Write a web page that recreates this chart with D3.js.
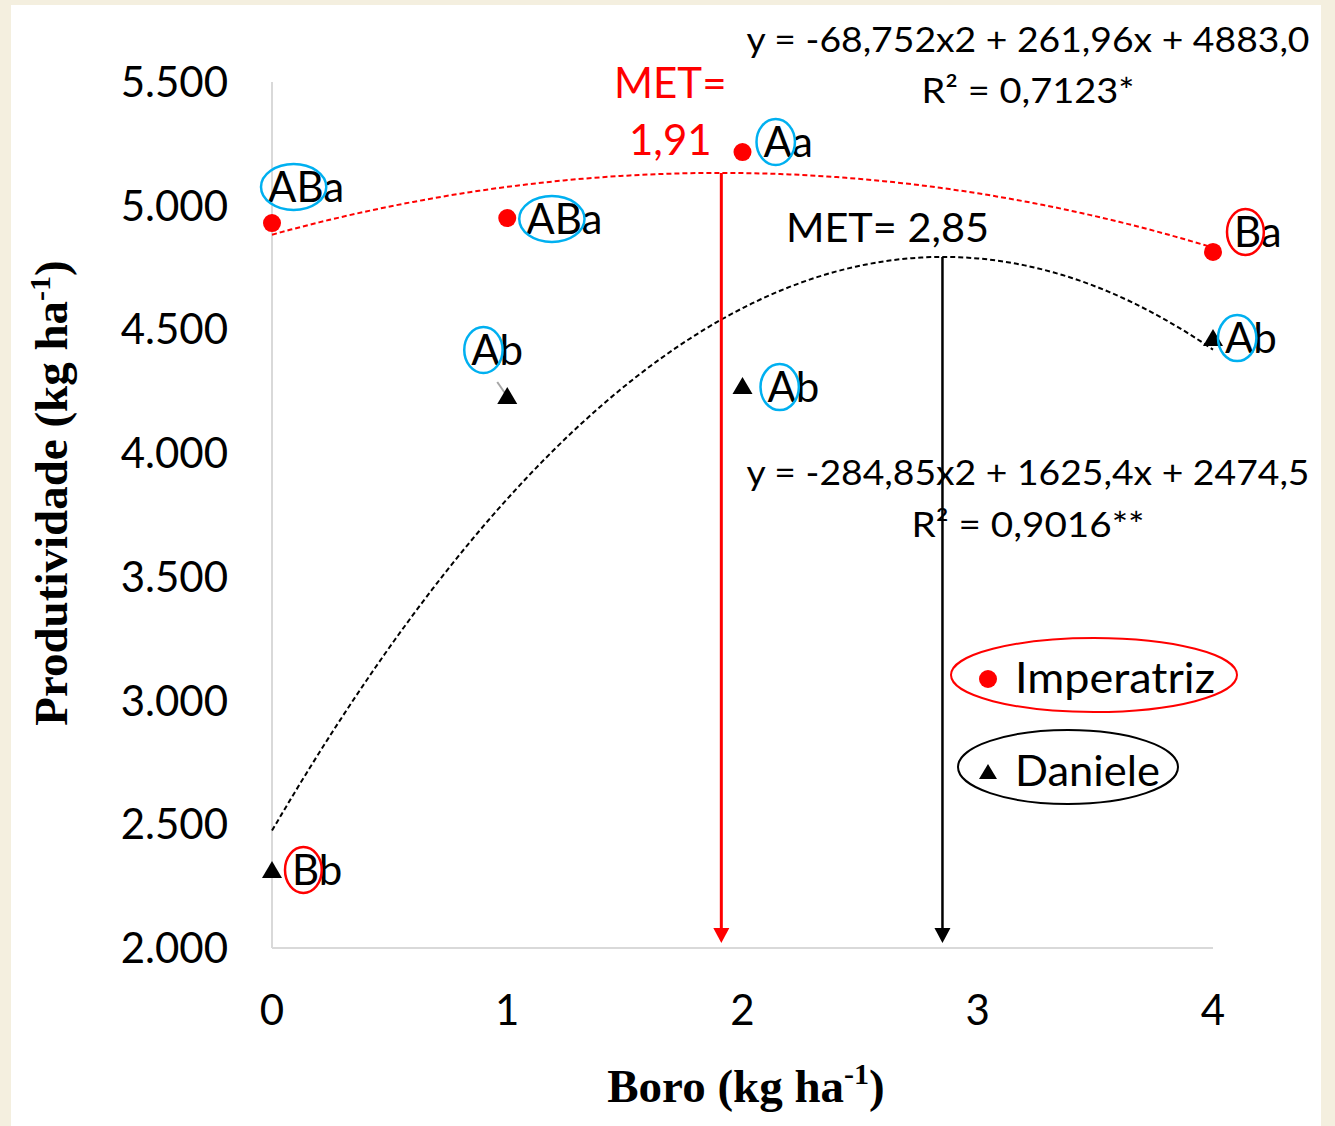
<!DOCTYPE html>
<html>
<head>
<meta charset="utf-8">
<script src="https://cdn.jsdelivr.net/npm/d3@7"></script>
<style>
  body { margin: 0; background: #f4efdf; }
  svg { display: block; }
</style>
</head>
<body>
<svg id="chart"></svg>
<script>
// values
var doses = [0, 1, 2, 4];
var imperatriz = [4930, 4950, 5217, 4813];
var daniele = [2315, 4231, 4271, 4465];
var imperatrizLetters = ["ABa", "ABa", "Aa", "Ba"];
var danieleLetters = ["Bb", "Ab", "Ab", "Ab"];
var imperatrizCircled = ["AB", "AB", "A", "B"];
var danieleCircled = ["B", "A", "A", "A"];
// regression coefficients (c0, c1, c2) as printed on the chart
var imperatrizCoef = [4883.0, 261.96, -68.752];
var danieleCoef = [2474.5, 1625.4, -284.85];
var metValues = [1.91, 2.85];
var metLabels = [["MET=", "1,91"], ["MET= 2,85"]];
var equations = ["y = -68,752x2 + 261,96x + 4883,0", "y = -284,85x2 + 1625,4x + 2474,5"];
var r2Labels = ["R² = 0,7123*", "R² = 0,9016**"];
var seriesNames = ["Imperatriz", "Daniele"];
var xTicks = [0, 1, 2, 3, 4];
var yTicks = [2000, 2500, 3000, 3500, 4000, 4500, 5000, 5500];

// label offsets from their point (layout only)
var impLabelOff = [[-4, -21], [19, 16], [21, 5], [21, -5]];
var danLabelOff = [[20, 15], [-36, -31], [25, 16], [12, 15]];

var W = 1335, H = 1126;
var RED = "#ff0000", BLUE = "#00b0f0";
var sans = "Lato, 'Open Sans', sans-serif";
var serif = "'Liberation Serif', 'Times New Roman', serif";

var svg = d3.select("#chart").attr("width", W).attr("height", H);

// background: beige page with white card
svg.append("rect").attr("width", W).attr("height", H).attr("fill", "#f4efdf");
svg.append("rect").attr("x", 11).attr("y", 5).attr("width", 1310).attr("height", H - 5).attr("fill", "#ffffff");

var x = d3.scaleLinear().domain([0, 4]).range([272, 1213]);
var y = d3.scaleLinear().domain([2000, 5500]).range([948, 82]);

var fmt = d3.formatLocale({ decimal: ",", thousands: ".", grouping: [3], currency: ["", ""] }).format(",");

// axes lines
svg.append("line").attr("x1", x(0)).attr("x2", x(0)).attr("y1", y(5500)).attr("y2", y(2000))
  .attr("stroke", "#d9d9d9").attr("stroke-width", 2);
svg.append("line").attr("x1", x(0)).attr("x2", x(4)).attr("y1", y(2000)).attr("y2", y(2000))
  .attr("stroke", "#d9d9d9").attr("stroke-width", 2);

// tick labels
svg.selectAll(".ytick").data(yTicks).enter().append("text")
  .attr("x", 228).attr("y", function(d) { return y(d) + 15 })
  .attr("text-anchor", "end").attr("font-family", sans).attr("font-size", 42)
  .text(function(d) { return fmt(d) });

svg.selectAll(".xtick").data(xTicks).enter().append("text")
  .attr("x", function(d) { return x(d) }).attr("y", 1025)
  .attr("text-anchor", "middle").attr("font-family", sans).attr("font-size", 42)
  .text(function(d) { return d });

// axis titles
var yt = svg.append("text").attr("transform", "translate(67,493) rotate(-90)")
  .attr("text-anchor", "middle").attr("font-family", serif).attr("font-weight", "bold").attr("font-size", 47);
yt.append("tspan").text("Produtividade (kg ha");
yt.append("tspan").attr("font-size", 30).attr("dy", -17).text("-1");
yt.append("tspan").attr("dy", 17).text(")");

var xt = svg.append("text").attr("x", 746).attr("y", 1102)
  .attr("text-anchor", "middle").attr("font-family", serif).attr("font-weight", "bold").attr("font-size", 47);
xt.append("tspan").text("Boro (kg ha");
xt.append("tspan").attr("font-size", 30).attr("dy", -18).text("-1");
xt.append("tspan").attr("dy", 18).text(")");

// trend curves
function poly(c, v) { return c[0] + c[1] * v + c[2] * v * v }
var xs = d3.range(0, 4.0001, 0.04);
var line = d3.line().x(function(d) { return x(d) });

svg.append("path")
  .attr("d", line.y(function(d) { return y(poly(imperatrizCoef, d)) })(xs))
  .attr("fill", "none").attr("stroke", RED).attr("stroke-width", 2).attr("stroke-dasharray", "5,3");
svg.append("path")
  .attr("d", line.y(function(d) { return y(poly(danieleCoef, d)) })(xs))
  .attr("fill", "none").attr("stroke", "#000").attr("stroke-width", 2).attr("stroke-dasharray", "5,3");

// MET arrows
var metColors = [RED, "#000"];
var metCoefs = [imperatrizCoef, danieleCoef];
metValues.forEach(function(m, i) {
  var px = x(m), top = y(poly(metCoefs[i], m)), tip = 943;
  svg.append("line").attr("x1", px).attr("x2", px).attr("y1", top).attr("y2", tip - 12)
    .attr("stroke", metColors[i]).attr("stroke-width", i == 0 ? 3 : 2.5);
  svg.append("path")
    .attr("d", "M" + (px - 8) + "," + (tip - 15) + "L" + (px + 8) + "," + (tip - 15) + "L" + px + "," + tip + "Z")
    .attr("fill", metColors[i]);
});

// MET labels
svg.append("text").attr("x", x(metValues[0]) - 51).attr("y", 98).attr("text-anchor", "middle")
  .attr("font-family", sans).attr("font-size", 42).attr("fill", RED).text(metLabels[0][0]);
svg.append("text").attr("x", x(metValues[0]) - 51).attr("y", 155).attr("text-anchor", "middle")
  .attr("font-family", sans).attr("font-size", 42).attr("fill", RED).text(metLabels[0][1]);
svg.append("text").attr("x", x(metValues[1]) - 55).attr("y", 242).attr("text-anchor", "middle")
  .attr("font-family", sans).attr("font-size", 40).attr("fill", "#000")
  .attr("textLength", 203).attr("lengthAdjust", "spacingAndGlyphs").text(metLabels[1][0]);

// equations
var eqBase = [[52, 103], [485, 537]];
var r2Len = [213, 233];
equations.forEach(function(e, i) {
  svg.append("text").attr("x", 1028).attr("y", eqBase[i][0]).attr("text-anchor", "middle")
    .attr("font-family", sans).attr("font-size", 34)
    .attr("textLength", 563).attr("lengthAdjust", "spacingAndGlyphs").text(e);
  svg.append("text").attr("x", 1028).attr("y", eqBase[i][1]).attr("text-anchor", "middle")
    .attr("font-family", sans).attr("font-size", 34)
    .attr("textLength", r2Len[i]).attr("lengthAdjust", "spacingAndGlyphs").text(r2Labels[i]);
});

// leader line at Daniele dose 1
svg.append("line").attr("x1", x(doses[1]) - 10).attr("y1", y(daniele[1]) - 14)
  .attr("x2", x(doses[1]) - 1).attr("y2", y(daniele[1]) - 1)
  .attr("stroke", "#a6a6a6").attr("stroke-width", 2);

// points
var tri = "M0,-9L10,8L-10,8Z";
svg.selectAll(".imp").data(doses).enter().append("circle")
  .attr("cx", function(d) { return x(d) })
  .attr("cy", function(d, i) { return y(imperatriz[i]) })
  .attr("r", 9).attr("fill", RED);
svg.selectAll(".dan").data(doses).enter().append("path")
  .attr("d", tri)
  .attr("transform", function(d, i) { return "translate(" + x(d) + "," + y(daniele[i]) + ")" })
  .attr("fill", "#000");

// letter labels with circled groups
function addLabel(px, py, txt, circ) {
  var t = svg.append("text").attr("x", px).attr("y", py)
    .attr("font-family", sans).attr("font-size", 42).attr("fill", "#000").text(txt);
  var w = t.node().getSubStringLength(0, circ.length);
  svg.append("ellipse")
    .attr("cx", px + w / 2 - 2).attr("cy", py - 15)
    .attr("rx", w / 2 + 5).attr("ry", 23)
    .attr("fill", "none").attr("stroke", circ == "B" ? RED : BLUE).attr("stroke-width", 2.5);
}
doses.forEach(function(d, i) {
  addLabel(x(d) + impLabelOff[i][0], y(imperatriz[i]) + impLabelOff[i][1], imperatrizLetters[i], imperatrizCircled[i]);
  addLabel(x(d) + danLabelOff[i][0], y(daniele[i]) + danLabelOff[i][1], danieleLetters[i], danieleCircled[i]);
});

// legend
var lg = svg.append("g");
lg.append("ellipse").attr("cx", 1094).attr("cy", 675).attr("rx", 143).attr("ry", 37)
  .attr("fill", "none").attr("stroke", RED).attr("stroke-width", 2);
lg.append("circle").attr("cx", 988).attr("cy", 679).attr("r", 9).attr("fill", RED);
lg.append("text").attr("x", 1015).attr("y", 693).attr("font-family", sans).attr("font-size", 42)
  .attr("textLength", 200).attr("lengthAdjust", "spacingAndGlyphs").text(seriesNames[0]);
lg.append("ellipse").attr("cx", 1068).attr("cy", 767).attr("rx", 110).attr("ry", 37)
  .attr("fill", "none").attr("stroke", "#000").attr("stroke-width", 2);
lg.append("path").attr("d", "M0,-8L9,7L-9,7Z").attr("transform", "translate(988,772)").attr("fill", "#000");
lg.append("text").attr("x", 1015).attr("y", 786).attr("font-family", sans).attr("font-size", 42)
  .attr("textLength", 145).attr("lengthAdjust", "spacingAndGlyphs").text(seriesNames[1]);
</script>
</body>
</html>
